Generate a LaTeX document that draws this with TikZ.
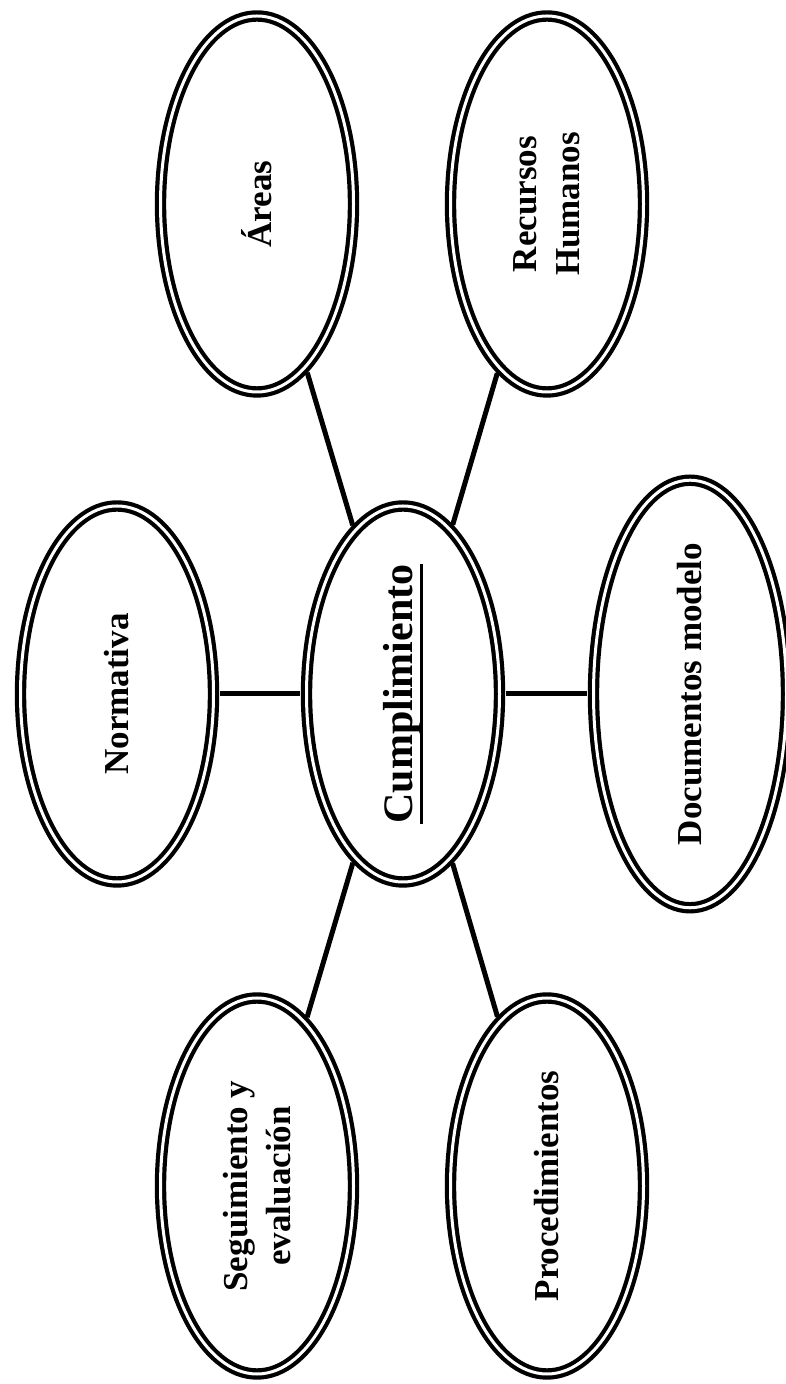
\documentclass[tikz,border=0pt]{standalone}
\usepackage{fontspec}
\setmainfont{Liberation Serif}
\usetikzlibrary{shapes.geometric}

\newsavebox\ulbox
\newcommand{\undertext}[1]{\sbox\ulbox{#1}\rlap{\rule[-11pt]{\wd\ulbox}{2.8pt}}\usebox\ulbox}

\begin{document}
\begin{tikzpicture}[x=1pt, y=1pt,
  bubble/.style={ellipse, draw, double, double distance=3pt, line width=4.2pt,
    minimum width=376pt, minimum height=193pt, inner sep=0pt, rotate=90,
    align=center, font=\fontsize{35}{43}\selectfont\bfseries},
  link/.style={line width=5pt, shorten <=4pt, shorten >=4pt}]
  \useasboundingbox (0,0) rectangle (786,1384);
  % --- centre ---
  \node[bubble, font=\fontsize{42}{50}\selectfont\bfseries] (cump) at (403,690)
       {\undertext{Cumplimiento}};
  % --- middle row ---
  \node[bubble] (norm) at (117,690) {Normativa};
  \node[bubble] (docs) at (690,690) {Documentos modelo};
  % --- top row ---
  \node[bubble] (areas) at (257,1180) {Áreas};
  \node[bubble] (rrhh) at (547,1180) {Recursos\\Humanos};
  % --- bottom row ---
  \node[bubble] (seg) at (257,198) {Seguimiento y\\evaluación};
  \node[bubble] (proc) at (547,198) {Procedimientos};
  % --- connectors ---
  \draw[link] (norm) -- (cump);
  \draw[link] (cump) -- (docs);
  \draw[link] (areas) -- (cump);
  \draw[link] (rrhh) -- (cump);
  \draw[link] (seg) -- (cump);
  \draw[link] (proc) -- (cump);
\end{tikzpicture}
\end{document}
